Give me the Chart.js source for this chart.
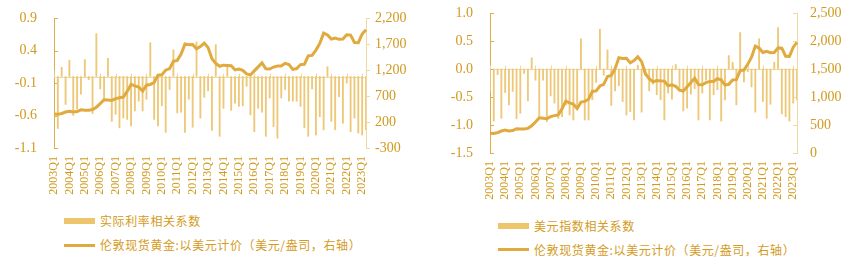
<!DOCTYPE html>
<html>
<head>
<meta charset="utf-8">
<script src="https://cdn.jsdelivr.net/npm/chart.js@4.4.1/dist/chart.umd.min.js"></script>
<style>
  body { margin: 0; background: #fff; width: 860px; height: 268px; position: relative; overflow: hidden; }
  canvas { position: absolute; top: 0; }
  .lg { position: absolute; font-family: 'Noto Sans CJK SC', sans-serif; font-size: 12px; color: #D49B1C;
        letter-spacing: 0.6px; line-height: 14px; white-space: nowrap; }
  .sw { position: absolute; }
</style>
</head>
<body>
<canvas id="rateChart" width="430" height="210" style="left:0"></canvas>
<canvas id="dxyChart" width="430" height="210" style="left:430px"></canvas>

<div class="sw" style="left:64px;top:218px;width:31px;height:6px;background:#ECC56C"></div>
<div class="lg" style="left:100px;top:214px">实际利率相关系数</div>
<div class="sw" style="left:64px;top:244px;width:31px;height:2.5px;background:#E0AA3E"></div>
<div class="lg" style="left:100px;top:238px">伦敦现货黄金:以美元计价（美元/盎司，右轴）</div>

<div class="sw" style="left:498px;top:223px;width:31px;height:6px;background:#ECC56C"></div>
<div class="lg" style="left:534px;top:219px">美元指数相关系数</div>
<div class="sw" style="left:498px;top:248px;width:31px;height:2.5px;background:#E0AA3E"></div>
<div class="lg" style="left:534px;top:243px">伦敦现货黄金:以美元计价（美元/盎司，右轴）</div>

<script>
// 2003Q1 .. 2023Q2
const quarters = [];
for (let y = 2003; y <= 2023; y++) {
  for (let q = 1; q <= 4; q++) {
    if (y === 2023 && q > 2) break;
    quarters.push(y + 'Q' + q);
  }
}

// London spot gold, USD/oz
const goldPrice = [
  352, 347, 364, 392,  408, 393, 401, 434,  427, 427, 440, 485,
  554, 628, 622, 614,  650, 667, 680, 788,  925, 896, 872, 795,
  908, 922, 960, 1100, 1109, 1197, 1227, 1367, 1386, 1506, 1702, 1688,
  1691, 1609, 1652, 1718, 1632, 1415, 1326, 1272, 1293, 1288, 1282, 1201,
  1218, 1192, 1124, 1105, 1183, 1260, 1335, 1222, 1219, 1257, 1278, 1276,
  1329, 1306, 1213, 1226, 1304, 1310, 1472, 1481, 1583, 1711, 1909, 1874,
  1794, 1816, 1790, 1795, 1877, 1871, 1729, 1726, 1890, 1976
];

// correlation with real rate
const realRateCorr = [
  0.09, -0.80, 0.14, -0.43, 0.25, -0.60, -0.50, -0.27, 0.26, -0.05,
  -0.57, 0.66, -0.19, -0.38, 0.28, -0.69, -0.58, -0.79, -0.64, -0.66,
  -0.76, -0.53, -0.38, -0.53, -0.35, 0.52, -0.66, -0.76, -0.45, -0.86,
  -0.20, 0.41, -0.56, -0.55, -0.86, -0.35, -0.78, 0.53, -0.64, -0.32,
  -0.22, -0.83, 0.49, -0.92, -0.49, 0.16, -0.52, -0.41, -0.46, -0.45,
  -0.15, -0.59, -0.85, -0.49, -0.55, -0.92, -0.33, -0.77, -0.95, -0.33,
  -0.20, -0.38, -0.38, -0.38, -0.46, -0.79, -0.92, -0.19, -0.90, -0.62,
  -0.82, 0.15, -0.69, -0.82, -0.31, -0.72, -0.10, -0.85, -0.64, -0.87,
  -0.90, -0.82
];

// correlation with dollar index
const dxyCorr = [
  -0.39, -0.93, -0.10, -0.88, -0.42, -0.64, -0.40, -0.89, -0.79, -0.08,
  -0.57, 0.20, -0.20, -0.88, -0.20, -0.94, -0.48, -0.61, -0.88, -0.85,
  -0.64, -0.82, -0.91, -0.71, 0.54, -0.91, -0.91, -0.55, -0.24, 0.71,
  -0.11, 0.34, -0.65, -0.39, -0.30, -0.58, -0.82, -0.76, -0.91, 0.07,
  -0.77, -0.11, -0.39, -0.27, -0.46, -0.55, -0.91, -0.43, -0.54, 0.08,
  -0.33, -0.75, -0.70, -0.45, -0.35, -0.91, -0.43, -0.20, -0.91, -0.46,
  -0.37, -0.93, -0.55, 0.24, 0.12, -0.64, 0.65, -0.23, -0.05, -0.32,
  -0.77, 0.54, -0.58, -0.88, -0.63, 0.12, 0.74, -0.80, -0.85, -0.93,
  -0.61, -0.55
];

const rateTicks = [-1.1, -0.6, -0.1, 0.4, 0.9];
const rateGoldTicks = [-300, 200, 700, 1200, 1700, 2200];
const dxyTicks = [-1.5, -1.0, -0.5, 0.0, 0.5, 1.0];
const dxyGoldTicks = [0, 500, 1000, 1500, 2000, 2500];

const BAR = '#EDC878';
const LINE = '#E0AA3E';
const TXT = '#D09A1E';
const AXIS = '#DDAE4C';
const AXIS_LIGHT = '#EFD8A2';

// zero line with yearly ticks, small ticks on the value axes
const zeroLine = {
  id: 'zeroLine',
  beforeDatasetsDraw(chart, args, opts) {
    const { ctx, chartArea, scales } = chart;
    const y0 = Math.round(scales.y.getPixelForValue(0)) + 0.5;
    ctx.save();
    ctx.strokeStyle = AXIS_LIGHT;
    ctx.lineWidth = 1;
    ctx.beginPath();
    ctx.moveTo(chartArea.left, y0);
    ctx.lineTo(chartArea.right, y0);
    chart.data.labels.forEach((l, i) => {
      if (l.endsWith('Q1')) {
        const x = Math.round(scales.x.getPixelForValue(i)) + 0.5;
        ctx.moveTo(x, y0);
        ctx.lineTo(x, y0 - 4);
      }
    });
    ctx.stroke();

    ctx.strokeStyle = AXIS;
    ctx.beginPath();
    scales.y.ticks.forEach(t => {
      const y = Math.round(scales.y.getPixelForValue(t.value)) + 0.5;
      ctx.moveTo(chartArea.left, y);
      ctx.lineTo(chartArea.left + 4, y);
    });
    ctx.stroke();

    ctx.strokeStyle = AXIS_LIGHT;
    ctx.beginPath();
    const dir = opts.rightInward ? -4 : 4;
    scales.y1.ticks.forEach(t => {
      const y = Math.round(scales.y1.getPixelForValue(t.value)) + 0.5;
      ctx.moveTo(chartArea.right, y);
      ctx.lineTo(chartArea.right + dir, y);
    });
    ctx.stroke();
    ctx.restore();
  }
};

function makeChart(id, barLabel, barData, leftTicks, rightTicks, cfg) {
  const tickFont = { family: "'Liberation Serif', serif", size: 14 };
  new Chart(document.getElementById(id), {
    type: 'bar',
    plugins: [zeroLine],
    data: {
      labels: quarters,
      datasets: [
        {
          type: 'line',
          label: '伦敦现货黄金:以美元计价（美元/盎司，右轴）',
          data: goldPrice,
          yAxisID: 'y1',
          borderColor: LINE,
          borderWidth: 3,
          pointRadius: 0,
          tension: 0,
          order: 0
        },
        {
          type: 'bar',
          label: barLabel,
          data: barData,
          yAxisID: 'y',
          backgroundColor: BAR,
          barThickness: 1.2,
          order: 1
        }
      ]
    },
    options: {
      responsive: false,
      animation: false,
      layout: { padding: { top: cfg.top, left: 0, right: 0, bottom: 0 } },
      plugins: {
        legend: { display: false },
        tooltip: { enabled: false },
        zeroLine: { rightInward: cfg.rightInward }
      },
      scales: {
        x: {
          offset: false,
          grid: { display: false, drawTicks: false },
          border: { display: false },
          ticks: {
            autoSkip: false,
            minRotation: 90,
            maxRotation: 90,
            padding: 8,
            color: TXT,
            font: { family: "'Liberation Serif', serif", size: 12 },
            callback: (v, i) => quarters[i].endsWith('Q1') ? quarters[i] : ''
          },
          afterFit: s => { s.height = 210 - cfg.bottom; s.paddingLeft = 0; s.paddingRight = 0; }
        },
        y: {
          position: 'left',
          min: leftTicks[0],
          max: leftTicks[leftTicks.length - 1],
          afterBuildTicks: s => { s.ticks = leftTicks.map(v => ({ value: v })); },
          grid: { display: false, drawTicks: false },
          border: { display: true, color: AXIS, width: 1 },
          ticks: { color: TXT, font: tickFont, padding: 17, callback: v => v.toFixed(1) },
          afterFit: s => { s.width = cfg.leftW; s.paddingTop = 0; s.paddingBottom = 0; }
        },
        y1: {
          position: 'right',
          min: rightTicks[0],
          max: rightTicks[rightTicks.length - 1],
          afterBuildTicks: s => { s.ticks = rightTicks.map(v => ({ value: v })); },
          grid: { display: false, drawTicks: false },
          border: { display: true, color: AXIS_LIGHT, width: 1 },
          ticks: { color: TXT, font: tickFont, padding: cfg.rightPad, callback: v => v.toLocaleString('en-US') },
          afterFit: s => { s.width = 430 - cfg.rightX; s.paddingTop = 0; s.paddingBottom = 0; }
        }
      }
    }
  });
}

makeChart('rateChart', '实际利率相关系数', realRateCorr, rateTicks, rateGoldTicks,
  { top: 18, bottom: 148, leftW: 54, rightX: 366, rightPad: 9, rightInward: false });
makeChart('dxyChart', '美元指数相关系数', dxyCorr, dxyTicks, dxyGoldTicks,
  { top: 13, bottom: 153, leftW: 60, rightX: 367, rightPad: 13, rightInward: true });
</script>
</body>
</html>
